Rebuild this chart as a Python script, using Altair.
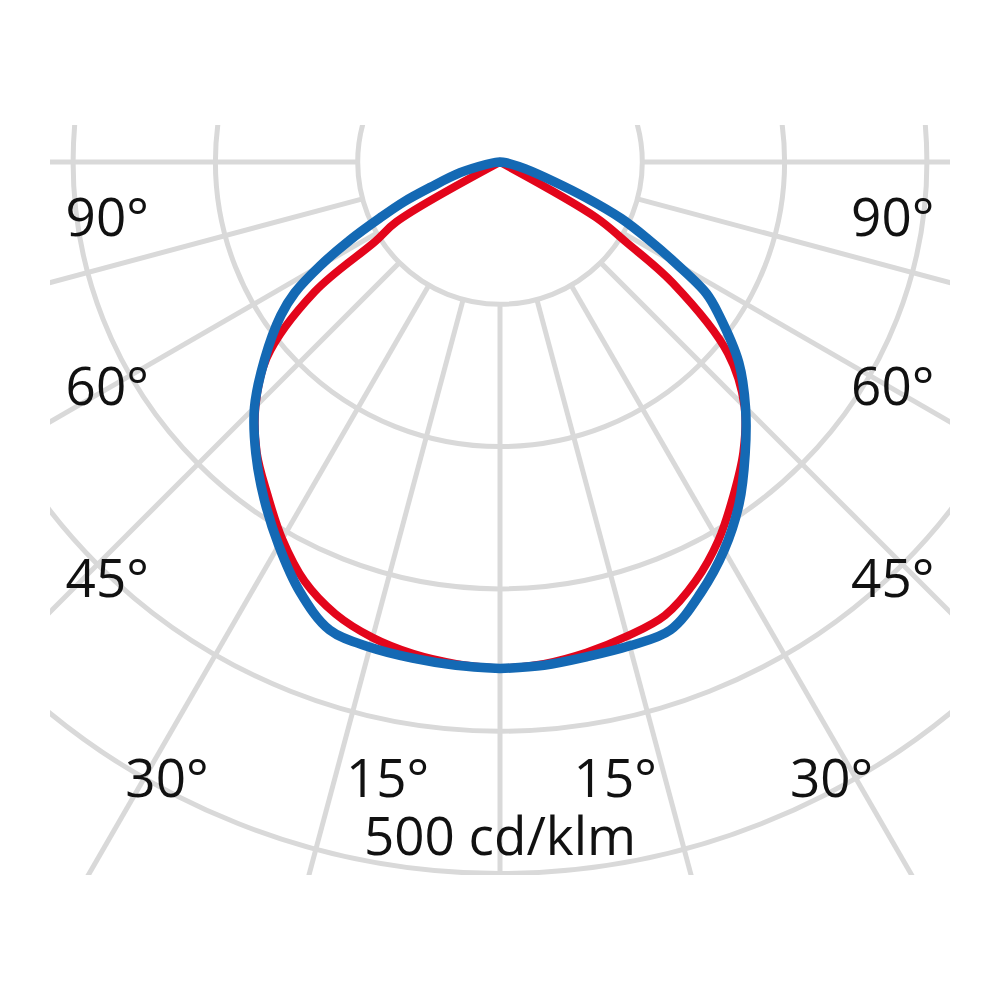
#%%
import math
import altair as alt
import pandas as pd

# polar intensity distribution, cd/klm, angle gamma from nadir (deg)
angles = [0, 5, 10, 15, 20, 25, 30, 35, 40, 45, 50, 55, 57.5, 60, 62.5,
          65, 67.5, 70, 75, 80, 85, 90]
blue_left = [356, 355, 354, 353, 350, 333, 311, 289, 267, 244, 216, 188, 171,
             146, 119, 93, 73, 52, 29, 10, 3, 0]
blue_right = [356, 355, 353, 352, 350, 334, 315, 293, 268, 244, 219, 188, 172,
              143, 117, 94, 65, 41, 18, 7, 2, 0]
red_left = [356, 354, 351, 346, 338, 325, 306, 285, 266, 243, 214, 159, 104,
            84, 0, 0, 0, 0, 0, 0, 0, 0]
red_right = [356, 354, 350, 345, 339, 325, 307, 286, 266, 243, 209, 148, 106,
             78, 0, 0, 0, 0, 0, 0, 0, 0]

# grid
circle_radii = [100, 200, 300, 400, 500]
spoke_angles = [-90, -75, -60, -45, -30, -15, 0, 15, 30, 45, 60, 75, 90]

# labels (text, anchor in cd/klm units)
label_text = ["90°", "60°", "45°", "30°", "15°", "15°", "30°", "45°", "60°", "90°", "500 cd/klm"]
label_x = [-276, -276, -276, -234, -79, 81, 233, 276, 276, 276, 0]
label_y = [-52, -171, -306, -446, -446, -446, -446, -306, -171, -52, -487]

k = 1.423  # px per cd/klm
W, H = 900, 750
xs = alt.Scale(domain=[-450 / k, 450 / k], nice=False, zero=False)
ys = alt.Scale(domain=[-713 / k, 37 / k], nice=False, zero=False)

rows = []
for name, left, right in [("red", red_left, red_right), ("blue", blue_left, blue_right)]:
    for a, v in zip(angles, left):
        rows.append({"series": name, "s": -a, "v": v})
    for a, v in zip(angles, right):
        rows.append({"series": name, "s": a, "v": v})
curves = pd.DataFrame(rows)

circles = pd.DataFrame({"r": circle_radii})
spokes = pd.DataFrame({"a": spoke_angles})
labels = pd.DataFrame({"t": label_text, "lx": label_x, "ly": label_y})

GRID = "#d9d9d9"

rings = alt.Chart(circles).mark_arc(
    filled=False, stroke=GRID, strokeWidth=5, theta=0, theta2=2 * math.pi, clip=True
).encode(
    x=alt.X(datum=0, type="quantitative", scale=xs, axis=None),
    y=alt.Y(datum=0, type="quantitative", scale=ys, axis=None),
    radius=alt.Radius("r:Q", stack=False,
                      scale=alt.Scale(type="linear", domain=[0, 500],
                                      range=[0, 500 * k], zero=True)),
)

rays = alt.Chart(spokes).transform_calculate(
    x1="100*sin(datum.a*PI/180)", y1="-100*cos(datum.a*PI/180)",
    x2="650*sin(datum.a*PI/180)", y2="-650*cos(datum.a*PI/180)",
).mark_rule(color=GRID, strokeWidth=5, clip=True).encode(
    x=alt.X("x1:Q", scale=xs, axis=None),
    y=alt.Y("y1:Q", scale=ys, axis=None),
    x2="x2:Q",
    y2="y2:Q",
)


def curve(name, color, width):
    return alt.Chart(curves).transform_filter(
        alt.datum.series == name
    ).transform_calculate(
        px="datum.v*sin(datum.s*PI/180)", py="-datum.v*cos(datum.s*PI/180)"
    ).mark_line(
        color=color, strokeWidth=width, interpolate="catmull-rom",
        strokeJoin="round", strokeCap="round", clip=True
    ).encode(
        x=alt.X("px:Q", scale=xs, axis=None),
        y=alt.Y("py:Q", scale=ys, axis=None),
        order="s:Q",
    )


red = curve("red", "#e3051b", 8)
blue = curve("blue", "#1469b4", 9.5)

text = alt.Chart(labels).mark_text(
    font="Open Sans", fontSize=53, align="center", baseline="alphabetic", color="#111111"
).encode(
    x=alt.X("lx:Q", scale=xs, axis=None),
    y=alt.Y("ly:Q", scale=ys, axis=None),
    text="t:N",
)

chart = alt.layer(rings, rays, red, blue, text).properties(
    width=W, height=H,
    autosize=alt.AutoSizeParams(type="none"),
    padding={"left": 42, "top": 117, "right": 42, "bottom": 117},
    background="white",
).configure_view(strokeWidth=0)

chart.save("out.html", embed_options={"renderer": "svg", "actions": False})
